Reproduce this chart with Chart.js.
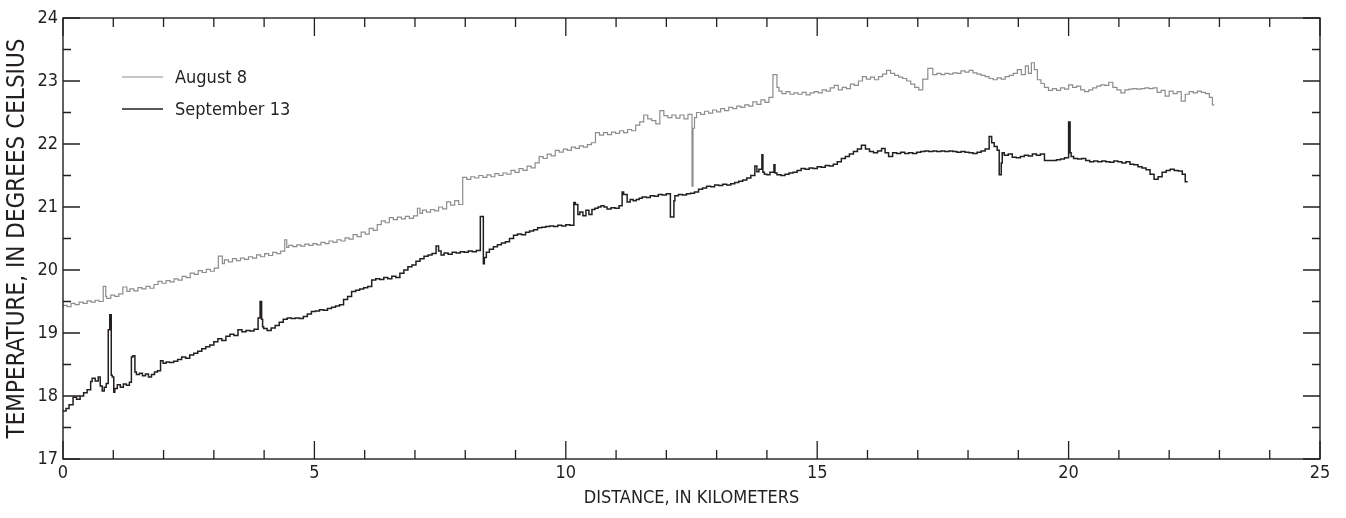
<!DOCTYPE html>
<html>
<head>
<meta charset="utf-8">
<script src="https://cdn.jsdelivr.net/npm/chart.js@4.4.1/dist/chart.umd.min.js"></script>
<style>
  html, body { margin: 0; padding: 0; background: #fff; }
  .wrap { position: relative; width: 1346px; height: 518px; }
</style>
</head>
<body>
<div class="wrap"><canvas id="tempChart" width="1346" height="518"></canvas></div>
<script>
// 河川縦断水温: 距離(km) vs 水温(℃), 2回の観測。
var X_TICKS = [0, 5, 10, 15, 20, 25];
var Y_TICKS = [17, 18, 19, 20, 21, 22, 23, 24];
var SERIES_LABELS = ["August 8", "September 13"];

// [距離 km, 水温 ℃]
var AUG_8 = [
  [0.00,19.40],[0.08,19.44],[0.16,19.42],[0.24,19.47],[0.32,19.45],[0.40,19.49],[0.48,19.47],[0.56,19.51],
  [0.64,19.49],[0.72,19.52],[0.80,19.50],[0.85,19.74],[0.87,19.58],[0.95,19.55],[1.03,19.60],[1.11,19.58],
  [1.19,19.62],[1.27,19.73],[1.33,19.66],[1.41,19.70],[1.49,19.67],[1.57,19.72],[1.65,19.70],[1.73,19.74],
  [1.81,19.71],[1.89,19.77],[1.97,19.82],[2.05,19.79],[2.13,19.83],[2.21,19.81],[2.29,19.86],[2.37,19.84],
  [2.45,19.90],[2.53,19.88],[2.61,19.95],[2.69,19.93],[2.77,19.99],[2.85,19.96],[2.93,20.01],[3.01,19.98],
  [3.09,20.03],[3.17,20.22],[3.21,20.10],[3.29,20.16],[3.37,20.13],[3.45,20.18],[3.53,20.15],[3.61,20.19],
  [3.69,20.17],[3.77,20.21],[3.85,20.19],[3.93,20.24],[4.01,20.21],[4.09,20.26],[4.17,20.23],[4.25,20.28],
  [4.33,20.26],[4.41,20.30],[4.45,20.48],[4.49,20.36],[4.57,20.39],[4.65,20.37],[4.73,20.40],[4.81,20.38],
  [4.89,20.41],[4.97,20.39],[5.05,20.42],[5.13,20.40],[5.21,20.44],[5.29,20.42],[5.37,20.46],[5.45,20.44],
  [5.53,20.48],[5.61,20.46],[5.69,20.51],[5.77,20.49],[5.85,20.56],[5.93,20.53],[6.01,20.60],[6.09,20.57],
  [6.17,20.66],[6.25,20.63],[6.33,20.72],[6.41,20.78],[6.49,20.75],[6.57,20.83],[6.65,20.80],[6.73,20.84],
  [6.81,20.81],[6.89,20.85],[6.97,20.82],[7.05,20.86],[7.10,20.98],[7.15,20.90],[7.23,20.95],[7.31,20.92],
  [7.39,20.96],[7.47,20.94],[7.55,21.00],[7.63,20.97],[7.71,21.08],[7.79,21.03],[7.87,21.10],[7.95,21.04],
  [8.03,21.47],[8.11,21.44],[8.19,21.48],[8.27,21.46],[8.35,21.50],[8.43,21.47],[8.51,21.51],[8.59,21.48],
  [8.67,21.53],[8.75,21.50],[8.83,21.54],[8.91,21.52],[8.99,21.58],[9.07,21.55],[9.15,21.61],[9.23,21.58],
  [9.31,21.65],[9.39,21.62],[9.47,21.70],[9.55,21.80],[9.63,21.77],[9.71,21.84],[9.79,21.81],[9.87,21.90],
  [9.95,21.87],[10.03,21.92],[10.11,21.90],[10.19,21.95],[10.27,21.93],[10.35,21.97],[10.43,21.95],[10.51,21.99],
  [10.59,22.02],[10.67,22.18],[10.75,22.14],[10.83,22.18],[10.91,22.15],[10.99,22.19],[11.07,22.17],[11.15,22.21],
  [11.23,22.18],[11.31,22.23],[11.39,22.21],[11.47,22.30],[11.55,22.35],[11.63,22.46],[11.71,22.40],[11.79,22.37],
  [11.87,22.32],[11.95,22.53],[12.03,22.45],[12.11,22.42],[12.19,22.46],[12.27,22.41],[12.35,22.46],[12.43,22.40],
  [12.51,22.47],[12.53,21.33],[12.56,22.25],[12.60,22.42],[12.68,22.50],[12.76,22.47],[12.84,22.52],[12.92,22.49],
  [13.00,22.54],[13.08,22.51],[13.16,22.56],[13.24,22.53],[13.32,22.58],[13.40,22.56],[13.48,22.60],[13.56,22.58],
  [13.64,22.62],[13.72,22.60],[13.80,22.67],[13.88,22.63],[13.96,22.70],[14.04,22.66],[14.12,22.74],[14.20,23.10],
  [14.24,22.90],[14.30,22.84],[14.38,22.80],[14.46,22.83],[14.54,22.79],[14.62,22.81],[14.70,22.79],[14.78,22.82],
  [14.86,22.78],[14.94,22.81],[15.02,22.83],[15.10,22.81],[15.18,22.86],[15.26,22.84],[15.34,22.89],[15.42,22.93],
  [15.50,22.86],[15.58,22.90],[15.66,22.88],[15.74,22.95],[15.82,22.93],[15.90,23.00],[15.98,23.07],[16.06,23.03],
  [16.14,23.06],[16.22,23.02],[16.30,23.07],[16.38,23.11],[16.46,23.17],[16.54,23.12],[16.62,23.09],[16.70,23.06],
  [16.78,23.04],[16.86,23.00],[16.94,22.95],[17.02,22.90],[17.10,22.86],[17.20,23.03],[17.30,23.20],[17.38,23.10],
  [17.46,23.12],[17.54,23.10],[17.62,23.12],[17.70,23.11],[17.78,23.13],[17.86,23.12],[17.94,23.16],[18.02,23.14],
  [18.10,23.17],[18.18,23.13],[18.26,23.11],[18.34,23.09],[18.42,23.07],[18.50,23.04],[18.58,23.02],[18.66,23.05],
  [18.74,23.03],[18.82,23.07],[18.90,23.09],[18.98,23.12],[19.06,23.18],[19.14,23.10],[19.20,23.24],[19.26,23.12],
  [19.32,23.29],[19.38,23.18],[19.45,23.02],[19.52,22.96],[19.60,22.90],[19.68,22.85],[19.76,22.88],[19.84,22.85],
  [19.92,22.89],[20.00,22.87],[20.08,22.94],[20.16,22.90],[20.24,22.92],[20.32,22.86],[20.40,22.83],[20.48,22.86],
  [20.56,22.89],[20.64,22.92],[20.72,22.94],[20.80,22.93],[20.88,22.98],[20.96,22.90],[21.04,22.86],[21.12,22.81],
  [21.20,22.86],[21.28,22.87],[21.36,22.88],[21.44,22.87],[21.52,22.88],[21.60,22.89],[21.68,22.88],[21.76,22.89],
  [21.84,22.82],[21.92,22.85],[22.00,22.76],[22.08,22.84],[22.16,22.80],[22.24,22.83],[22.32,22.68],[22.40,22.79],
  [22.48,22.83],[22.56,22.81],[22.64,22.84],[22.72,22.82],[22.80,22.80],[22.86,22.74],[22.90,22.62]
];

var SEP_13 = [
  [0.00,17.78],[0.06,17.76],[0.12,17.80],[0.20,17.86],[0.27,17.98],[0.34,17.95],[0.41,18.00],[0.48,18.05],
  [0.55,18.10],[0.58,18.23],[0.64,18.28],[0.70,18.24],[0.74,18.30],[0.78,18.16],[0.82,18.08],[0.86,18.14],
  [0.90,18.20],[0.93,19.05],[0.96,19.29],[0.98,18.33],[1.01,18.30],[1.03,18.06],[1.08,18.12],[1.14,18.18],
  [1.20,18.14],[1.26,18.19],[1.32,18.17],[1.36,18.22],[1.39,18.62],[1.43,18.64],[1.46,18.38],[1.52,18.34],
  [1.58,18.36],[1.64,18.32],[1.70,18.35],[1.76,18.30],[1.82,18.34],[1.88,18.38],[1.94,18.40],[1.99,18.56],
  [2.05,18.52],[2.12,18.54],[2.20,18.53],[2.28,18.55],[2.36,18.58],[2.44,18.62],[2.52,18.60],[2.60,18.65],
  [2.68,18.68],[2.76,18.71],[2.84,18.75],[2.92,18.78],[3.00,18.81],[3.08,18.86],[3.16,18.91],[3.24,18.88],
  [3.32,18.95],[3.40,18.98],[3.48,18.96],[3.56,19.05],[3.64,19.02],[3.72,19.04],[3.80,19.03],[3.88,19.06],
  [3.92,19.24],[3.95,19.50],[3.97,19.22],[3.99,19.10],[4.06,19.07],[4.14,19.04],[4.22,19.08],[4.30,19.12],
  [4.38,19.17],[4.46,19.22],[4.54,19.24],[4.62,19.23],[4.70,19.24],[4.78,19.23],[4.86,19.26],[4.94,19.30],
  [5.02,19.34],[5.10,19.35],[5.18,19.37],[5.26,19.36],[5.34,19.39],[5.42,19.41],[5.50,19.43],[5.58,19.45],
  [5.66,19.53],[5.74,19.58],[5.82,19.66],[5.90,19.68],[5.98,19.70],[6.06,19.72],[6.14,19.74],[6.22,19.84],
  [6.30,19.86],[6.38,19.85],[6.46,19.88],[6.54,19.86],[6.62,19.90],[6.70,19.88],[6.78,19.95],[6.86,20.00],
  [6.94,20.05],[7.02,20.08],[7.10,20.14],[7.18,20.18],[7.26,20.22],[7.34,20.24],[7.42,20.26],[7.47,20.38],
  [7.52,20.30],[7.58,20.24],[7.66,20.27],[7.74,20.25],[7.82,20.28],[7.90,20.27],[7.98,20.29],[8.06,20.28],
  [8.14,20.30],[8.22,20.29],[8.30,20.31],[8.36,20.85],[8.38,20.10],[8.42,20.20],[8.48,20.28],[8.56,20.33],
  [8.64,20.37],[8.72,20.40],[8.80,20.43],[8.88,20.45],[8.96,20.50],[9.04,20.55],[9.12,20.57],[9.20,20.56],
  [9.28,20.60],[9.36,20.62],[9.44,20.64],[9.52,20.67],[9.60,20.68],[9.68,20.69],[9.76,20.70],[9.84,20.69],
  [9.92,20.71],[10.00,20.70],[10.08,20.72],[10.16,20.71],[10.19,21.07],[10.24,21.04],[10.28,20.88],[10.34,20.92],
  [10.40,20.86],[10.46,20.95],[10.52,20.88],[10.58,20.96],[10.64,20.98],[10.70,21.00],[10.76,21.02],[10.82,21.00],
  [10.90,20.97],[10.98,20.99],[11.06,20.98],[11.12,21.02],[11.15,21.24],[11.22,21.20],[11.28,21.08],[11.34,21.12],
  [11.40,21.10],[11.46,21.12],[11.52,21.14],[11.60,21.16],[11.68,21.15],[11.76,21.18],[11.84,21.17],[11.92,21.20],
  [12.00,21.19],[12.08,21.21],[12.15,20.84],[12.17,21.10],[12.24,21.18],[12.32,21.20],[12.40,21.19],[12.48,21.21],
  [12.56,21.22],[12.64,21.24],[12.72,21.28],[12.80,21.30],[12.88,21.33],[12.96,21.32],[13.04,21.35],[13.12,21.34],
  [13.20,21.36],[13.28,21.35],[13.36,21.37],[13.44,21.39],[13.52,21.41],[13.60,21.43],[13.68,21.46],[13.76,21.50],
  [13.80,21.65],[13.84,21.56],[13.90,21.60],[13.92,21.83],[13.95,21.55],[14.00,21.52],[14.06,21.51],[14.14,21.55],
  [14.16,21.67],[14.20,21.54],[14.28,21.51],[14.36,21.50],[14.44,21.52],[14.52,21.54],[14.60,21.55],[14.68,21.58],
  [14.76,21.61],[14.84,21.60],[14.92,21.62],[15.00,21.61],[15.08,21.64],[15.16,21.63],[15.24,21.66],[15.32,21.65],
  [15.40,21.68],[15.48,21.72],[15.56,21.77],[15.64,21.80],[15.72,21.84],[15.80,21.88],[15.88,21.92],[15.96,21.98],
  [16.04,21.92],[16.12,21.88],[16.20,21.86],[16.28,21.89],[16.35,21.93],[16.42,21.86],[16.50,21.80],[16.58,21.86],
  [16.66,21.85],[16.74,21.87],[16.82,21.85],[16.90,21.86],[16.98,21.85],[17.06,21.87],[17.14,21.88],[17.22,21.89],
  [17.30,21.88],[17.38,21.89],[17.46,21.88],[17.54,21.89],[17.62,21.88],[17.70,21.89],[17.78,21.88],[17.86,21.87],
  [17.94,21.88],[18.02,21.87],[18.10,21.86],[18.18,21.85],[18.26,21.87],[18.34,21.89],[18.42,21.92],[18.47,22.12],
  [18.52,22.02],[18.58,21.96],[18.62,21.90],[18.66,21.51],[18.68,21.70],[18.72,21.86],[18.80,21.82],[18.88,21.84],
  [18.96,21.79],[19.04,21.78],[19.12,21.80],[19.20,21.82],[19.28,21.81],[19.36,21.84],[19.44,21.82],[19.52,21.84],
  [19.60,21.74],[19.68,21.74],[19.76,21.74],[19.84,21.75],[19.92,21.76],[20.00,21.78],[20.03,22.35],[20.05,21.86],
  [20.10,21.80],[20.18,21.77],[20.26,21.76],[20.34,21.77],[20.42,21.74],[20.50,21.72],[20.58,21.73],[20.66,21.72],
  [20.74,21.73],[20.82,21.72],[20.90,21.71],[20.98,21.73],[21.06,21.72],[21.14,21.70],[21.22,21.72],[21.30,21.68],
  [21.38,21.67],[21.46,21.64],[21.54,21.62],[21.62,21.59],[21.70,21.52],[21.78,21.44],[21.86,21.48],[21.94,21.55],
  [22.02,21.58],[22.10,21.60],[22.18,21.58],[22.26,21.57],[22.32,21.52],[22.37,21.40]
];

(function () {
    "use strict";

    var INK = "#231f20";
    var GREY = "#8d8d8d";
    var FONT = "'Liberation Sans Narrow', 'DejaVu Sans Condensed', 'Roboto', sans-serif";

    function pts(arr) {
        return arr.map(function (p) { return { x: p[0], y: p[1] }; });
    }

    // 内向きの目盛り(上下左右)と枠線、凡例を手描き
    var frame = {
        id: "frame",
        afterDraw: function (chart) {
            var ctx = chart.ctx, a = chart.chartArea;
            var xs = chart.scales.x, ys = chart.scales.y;
            ctx.save();
            ctx.strokeStyle = INK;
            ctx.lineWidth = 1.4;
            ctx.strokeRect(a.left, a.top, a.right - a.left, a.bottom - a.top);
            ctx.lineWidth = 1.3;
            ctx.beginPath();
            for (var k = 0; k <= 25; k++) {
                var px = xs.getPixelForValue(k);
                var len = (k % 5 === 0) ? 18 : 9;
                ctx.moveTo(px, a.bottom); ctx.lineTo(px, a.bottom - len);
                ctx.moveTo(px, a.top); ctx.lineTo(px, a.top + len);
            }
            for (var t = 17; t <= 24; t += 0.5) {
                var py = ys.getPixelForValue(t);
                var ln = (t % 1 === 0) ? 17 : 8;
                ctx.moveTo(a.left, py); ctx.lineTo(a.left + ln, py);
                ctx.moveTo(a.right, py); ctx.lineTo(a.right - ln, py);
            }
            ctx.stroke();

            // 凡例
            var rows = [{ c: GREY, w: 1.2, y: 77 }, { c: INK, w: 1.5, y: 109 }];
            ctx.font = "18px " + FONT;
            ctx.textBaseline = "middle";
            ctx.fillStyle = INK;
            rows.forEach(function (r, i) {
                ctx.strokeStyle = r.c;
                ctx.lineWidth = r.w;
                ctx.beginPath();
                ctx.moveTo(122, r.y); ctx.lineTo(163, r.y);
                ctx.stroke();
                ctx.fillText(chart.data.datasets[i].label, 175, r.y + 1);
            });
            ctx.restore();
        }
    };

    var tickFont = { family: FONT, size: 18 };

    new Chart(document.getElementById("tempChart").getContext("2d"), {
        type: "scatter",
        data: {
            datasets: [
                { label: SERIES_LABELS[0], data: pts(AUG_8), showLine: true, stepped: "after",
                  borderColor: GREY, borderWidth: 1.2, pointRadius: 0 },
                { label: SERIES_LABELS[1], data: pts(SEP_13), showLine: true, stepped: "after",
                  borderColor: INK, borderWidth: 1.5, pointRadius: 0 }
            ]
        },
        options: {
            responsive: false,
            animation: false,
            layout: { padding: { top: 18, right: 26, left: 0, bottom: 0 } },
            plugins: { legend: { display: false }, tooltip: { enabled: false } },
            scales: {
                x: {
                    type: "linear", min: 0, max: 25,
                    afterBuildTicks: function (s) { s.ticks = X_TICKS.map(function (v) { return { value: v }; }); },
                    afterFit: function (s) { s.height = 59; },
                    grid: { display: false, drawTicks: false },
                    border: { display: false },
                    ticks: { color: INK, font: tickFont, padding: 4, maxRotation: 0 },
                    title: { display: true, text: "DISTANCE, IN KILOMETERS", color: INK,
                             font: tickFont, padding: { top: 0, bottom: 9 } }
                },
                y: {
                    type: "linear", min: 17, max: 24,
                    afterBuildTicks: function (s) { s.ticks = Y_TICKS.map(function (v) { return { value: v }; }); },
                    afterFit: function (s) { s.width = 63; },
                    grid: { display: false, drawTicks: false },
                    border: { display: false },
                    ticks: { color: INK, font: tickFont, padding: 5 },
                    title: { display: true, text: "TEMPERATURE, IN DEGREES CELSIUS", color: INK,
                             font: { family: FONT, size: 24 }, padding: { top: 3, bottom: 0 } }
                }
            }
        },
        plugins: [frame]
    });
})();
</script>
</body>
</html>
